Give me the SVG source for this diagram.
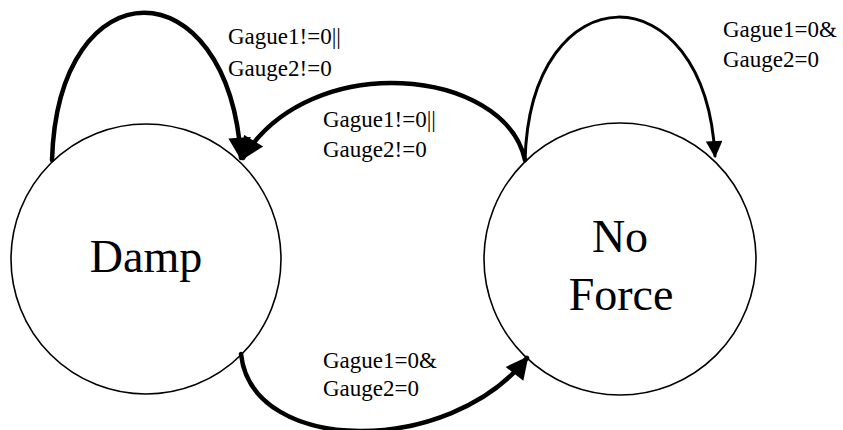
<svg xmlns="http://www.w3.org/2000/svg" width="843" height="430" viewBox="0 0 843 430">
<defs>
<style>
.node{fill:#fff;stroke:#000;stroke-width:1.6}
.big{font-family:'Liberation Serif','DejaVu Serif',serif;font-size:46px;fill:#000;text-anchor:middle}
.lbl{font-family:'Liberation Serif','DejaVu Serif',serif;font-size:23px;fill:#000}
.edge{fill:none;stroke:#000;stroke-linecap:round}
</style>
<marker id="ah" viewBox="0 0 10 10" refX="9" refY="5" markerWidth="5.5" markerHeight="5" markerUnits="strokeWidth" orient="auto">
<path d="M0,0 L10,5 L0,10 z" fill="#000"/>
</marker>
<marker id="ah2" viewBox="0 0 10 10" refX="9" refY="5" markerWidth="6" markerHeight="5.5" markerUnits="strokeWidth" orient="auto">
<path d="M0,0 L10,5 L0,10 z" fill="#000"/>
</marker>
</defs>
<g id="damp">
<circle class="node" cx="146" cy="259" r="135"/>
<text class="big" x="146" y="272">Damp</text>
</g>
<g id="noforce">
<circle class="node" cx="620" cy="259" r="136"/>
<text class="big" x="620" y="252">No</text>
<text class="big" x="621" y="310">Force</text>
</g>
<g id="connectors">
<path class="edge" stroke-width="4.5" d="M52,160 C58,-36 228,-36 241,158" marker-end="url(#ah)"/>
<path class="edge" stroke-width="4.5" d="M525,160 C505,68 310,48 243,158" marker-end="url(#ah)"/>
<path class="edge" stroke-width="4.5" d="M241,354 C252,456 450,456 527,358" marker-end="url(#ah)"/>
<path class="edge" stroke-width="3" d="M525,161 C530,-30 705,-30 715,156" marker-end="url(#ah2)"/>
</g>
<g id="labels">
<text class="lbl" x="228" y="44">Gague1!=0||</text>
<text class="lbl" x="228" y="76">Gauge2!=0</text>
<text class="lbl" x="323" y="127">Gague1!=0||</text>
<text class="lbl" x="323" y="157">Gauge2!=0</text>
<text class="lbl" x="723" y="37">Gague1=0&amp;</text>
<text class="lbl" x="723" y="67">Gauge2=0</text>
<text class="lbl" x="323" y="368">Gague1=0&amp;</text>
<text class="lbl" x="323" y="396">Gauge2=0</text>
</g>
</svg>
